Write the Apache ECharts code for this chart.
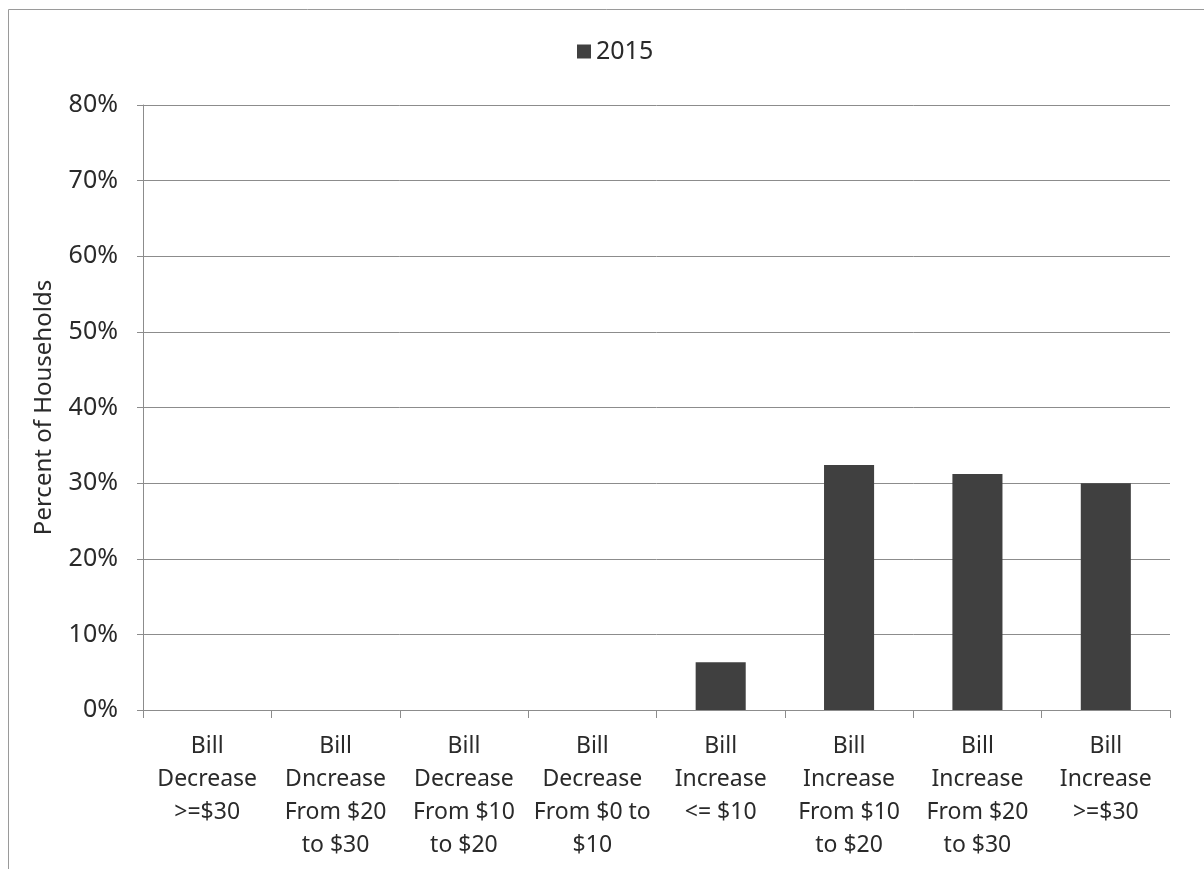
<!DOCTYPE html>
<html>
<head>
<meta charset="utf-8">
<script src="https://cdn.jsdelivr.net/npm/echarts@6/dist/echarts.min.js"></script>
<style>html,body{margin:0;padding:0;background:#fff;}#c{width:1204px;height:869px;}</style>
</head>
<body>
<div id="c"></div>
<script>
const categories = [
  "Bill\nDecrease\n>=$30",
  "Bill\nDncrease\nFrom $20\nto $30",
  "Bill\nDecrease\nFrom $10\nto $20",
  "Bill\nDecrease\nFrom $0 to\n$10",
  "Bill\nIncrease\n<= $10",
  "Bill\nIncrease\nFrom $10\nto $20",
  "Bill\nIncrease\nFrom $20\nto $30",
  "Bill\nIncrease\n>=$30"
];
const seriesName = "2015";
const values2015 = [0, 0, 0, 0, 6.3, 32.4, 31.2, 30.0];
const yTicks = { min: 0, max: 80, interval: 10 };
const yAxisTitle = "Percent of Households";

const FONT = "Noto Sans";
const chart = echarts.init(document.getElementById('c'), null, {renderer: 'canvas'});
chart.setOption({
  animation: false,
  backgroundColor: '#fff',
  textStyle: { fontFamily: FONT },
  graphic: [{
    type: 'rect', left: 6, top: 7, silent: true,
    shape: { width: 1210, height: 880 },
    style: { fill: 'none', stroke: '#9a9a9a', lineWidth: 1 }
  }],
  legend: {
    top: 34, left: 572,
    itemWidth: 14, itemHeight: 14, itemGap: 8,
    icon: 'rect',
    textStyle: { fontFamily: FONT, fontSize: 25, color: '#2a2a2a' },
    data: [seriesName]
  },
  grid: { left: 143, right: 34, top: 105, bottom: 159, containLabel: false },
  xAxis: {
    type: 'category',
    data: categories,
    axisLine: { lineStyle: { color: '#8c8c8c', width: 1 } },
    axisTick: { show: true, alignWithLabel: false, length: 8, lineStyle: { color: '#8c8c8c' } },
    axisLabel: {
      interval: 0, margin: 20, fontFamily: FONT, fontSize: 23, lineHeight: 33, color: '#2a2a2a',
      align: 'center'
    }
  },
  yAxis: {
    type: 'value',
    min: yTicks.min, max: yTicks.max, interval: yTicks.interval,
    name: yAxisTitle,
    nameLocation: 'middle', nameGap: 87, nameRotate: 90,
    nameTextStyle: { fontFamily: FONT, fontSize: 24, color: '#2a2a2a' },
    axisLine: { show: true, lineStyle: { color: '#8c8c8c' } },
    axisTick: { show: true, length: 6, lineStyle: { color: '#8c8c8c' } },
    axisLabel: { formatter: v => v + '%', fontFamily: FONT, fontSize: 25, color: '#2a2a2a', margin: 25 },
    splitLine: { show: true, lineStyle: { color: '#8c8c8c', width: 1 } }
  },
  series: [{
    name: seriesName,
    type: 'bar',
    data: values2015,
    barWidth: '39%',
    itemStyle: { color: '#404040' }
  }]
});
</script>
</body>
</html>
